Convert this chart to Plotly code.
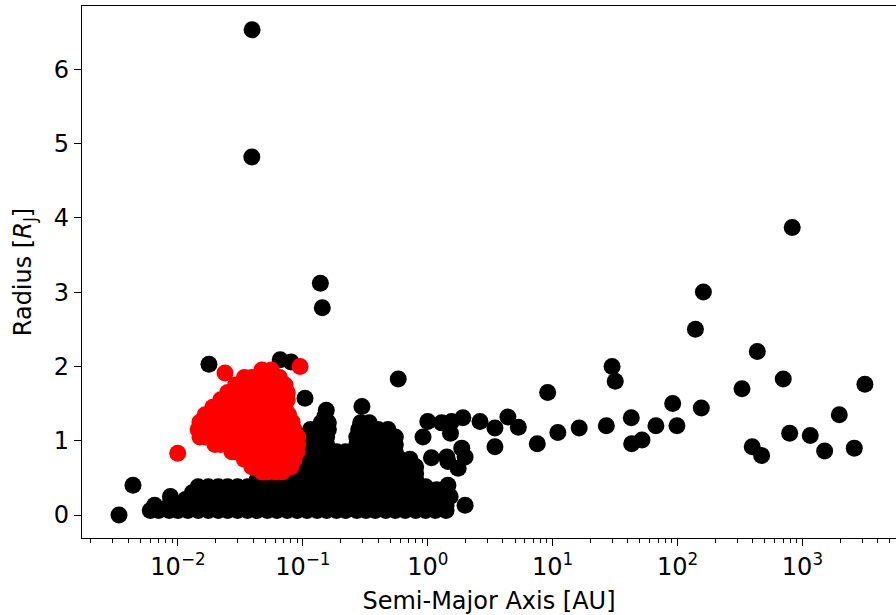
import plotly.graph_objects as go

# ---------------- data ----------------
# Dense black cloud of planets (radius rows -> semi-major axis values, AU)
black_row_r = [0.06, 0.13, 0.21, 0.30, 0.38, 0.47, 0.56, 0.65, 0.75, 0.85, 0.95, 1.05, 1.15, 1.24, 1.33, 1.41]
black_row_a = [
    [0.006, 0.007, 0.0085, 0.01, 0.012, 0.0145, 0.0175, 0.021, 0.025, 0.03, 0.036, 0.043, 0.052, 0.062, 0.075, 0.09,
     0.108, 0.13, 0.155, 0.186, 0.22, 0.27, 0.32, 0.38, 0.46, 0.55, 0.66, 0.8, 0.96, 1.15, 1.4],
    [0.0065, 0.0085, 0.01, 0.012, 0.0145, 0.0175, 0.021, 0.025, 0.03, 0.036, 0.043, 0.052, 0.062, 0.075, 0.09,
     0.108, 0.13, 0.155, 0.186, 0.22, 0.27, 0.32, 0.38, 0.46, 0.55, 0.66, 0.8, 0.96, 1.15, 1.4],
    [0.0115, 0.0145, 0.0175, 0.021, 0.025, 0.03, 0.036, 0.043, 0.052, 0.062, 0.075, 0.09,
     0.108, 0.13, 0.155, 0.186, 0.22, 0.27, 0.32, 0.38, 0.46, 0.55, 0.66, 0.8, 0.96, 1.15, 1.4],
    [0.013, 0.0155, 0.0175, 0.021, 0.025, 0.03, 0.036, 0.043, 0.052, 0.062, 0.075, 0.09,
     0.108, 0.13, 0.155, 0.186, 0.22, 0.27, 0.32, 0.38, 0.46, 0.55, 0.66, 0.8, 0.96, 1.15],
    [0.0145, 0.0175, 0.021, 0.025, 0.03, 0.036, 0.043, 0.052, 0.062, 0.075, 0.09,
     0.108, 0.13, 0.155, 0.186, 0.22, 0.27, 0.32, 0.38, 0.46, 0.55, 0.66, 0.8, 0.96],
    [0.043, 0.052, 0.062, 0.075, 0.09, 0.108, 0.13, 0.155, 0.186, 0.22, 0.27, 0.32, 0.38, 0.46, 0.55, 0.66, 0.8],
    [0.075, 0.09, 0.108, 0.13, 0.155, 0.186, 0.22, 0.27, 0.32, 0.38, 0.46, 0.55, 0.66, 0.8],
    [0.09, 0.108, 0.13, 0.155, 0.186, 0.22, 0.27, 0.32, 0.38, 0.46, 0.55, 0.66, 0.8],
    [0.1, 0.12, 0.14, 0.17, 0.2, 0.24, 0.29, 0.35, 0.42, 0.5, 0.6, 0.72],
    [0.108, 0.13, 0.155, 0.186, 0.22, 0.27, 0.32, 0.38, 0.46, 0.55],
    [0.108, 0.13, 0.155, 0.27, 0.32, 0.38, 0.46, 0.55],
    [0.11, 0.13, 0.155, 0.27, 0.32, 0.38, 0.46, 0.55],
    [0.115, 0.14, 0.16, 0.28, 0.33, 0.4, 0.48],
    [0.14, 0.16, 0.29, 0.34],
    [0.15],
    [0.154],
]

# Individual black planets (semi-major axis AU, radius R_J)
black_a = [0.00337, 0.00436, 0.0087, 0.0392, 0.039, 0.138, 0.143, 0.0177, 0.0658, 0.0805, 0.104, 0.297, 0.58,
           1.0, 1.29, 1.55, 1.91, 2.62, 3.45, 4.38, 0.916, 1.52, 1.07, 1.42, 1.87, 1.99, 1.75, 1.45, 1.45, 1.51,
           1.99, 1.04, 0.81, 1.18, 0.72, 3.45, 5.31,
           828, 161, 139, 435, 702, 328, 3162, 29.9, 31.7, 9.12, 91.4, 155, 1972, 790, 1155, 1506, 2600, 396,
           471, 42.6, 67.1, 98.9, 42.9, 51.9, 26.9, 16.3, 11.0, 7.53]
black_r = [0.0, 0.40, 0.25, 6.53, 4.82, 3.12, 2.79, 2.03, 2.09, 2.06, 1.57, 1.46, 1.83,
           1.26, 1.24, 1.26, 1.31, 1.26, 1.17, 1.32, 1.05, 1.10, 0.77, 0.78, 0.90, 0.78, 0.63, 0.72, 0.40, 0.25,
           0.13, 0.16, 0.34, 0.34, 0.11, 0.92, 1.18,
           3.87, 3.00, 2.50, 2.20, 1.83, 1.70, 1.76, 2.00, 1.80, 1.65, 1.50, 1.44, 1.35, 1.10, 1.07, 0.86, 0.90, 0.92,
           0.80, 1.31, 1.20, 1.20, 0.96, 1.01, 1.20, 1.17, 1.11, 0.96]

# Highlighted red planets (radius rows -> semi-major axis values, AU)
red_row_r = [1.95, 1.85, 1.75, 1.65, 1.55, 1.45, 1.35, 1.25, 1.15, 1.05, 0.95, 0.85, 0.75, 0.65, 0.58]
red_row_a = [
    [0.047, 0.056],
    [0.034, 0.039, 0.045, 0.052, 0.06, 0.065],
    [0.029, 0.034, 0.039, 0.045, 0.052, 0.06, 0.068, 0.072],
    [0.025, 0.029, 0.034, 0.039, 0.045, 0.052, 0.06, 0.068, 0.075],
    [0.022, 0.025, 0.029, 0.034, 0.039, 0.045, 0.052, 0.06, 0.068, 0.075],
    [0.019, 0.022, 0.025, 0.029, 0.034, 0.039, 0.045, 0.052, 0.06, 0.068, 0.072],
    [0.0165, 0.019, 0.022, 0.025, 0.029, 0.034, 0.039, 0.045, 0.052, 0.06, 0.068, 0.077],
    [0.015, 0.0165, 0.019, 0.022, 0.025, 0.029, 0.034, 0.039, 0.045, 0.052, 0.06, 0.068, 0.077, 0.082],
    [0.0145, 0.0165, 0.019, 0.022, 0.025, 0.029, 0.034, 0.039, 0.045, 0.052, 0.06, 0.068, 0.077, 0.085],
    [0.015, 0.0165, 0.019, 0.022, 0.025, 0.029, 0.034, 0.039, 0.045, 0.052, 0.06, 0.068, 0.077, 0.085, 0.091],
    [0.0198, 0.022, 0.025, 0.029, 0.034, 0.039, 0.045, 0.052, 0.06, 0.068, 0.077, 0.085, 0.091],
    [0.027, 0.029, 0.034, 0.039, 0.045, 0.052, 0.06, 0.068, 0.077, 0.085, 0.09],
    [0.034, 0.039, 0.045, 0.052, 0.06, 0.068, 0.077, 0.085],
    [0.039, 0.045, 0.052, 0.06, 0.068, 0.075, 0.08],
    [0.047, 0.052, 0.06, 0.068],
]
red_a = [0.0238, 0.00995, 0.095]
red_r = [1.91, 0.83, 2.00]

x_tick_vals = [0.01, 0.1, 1, 10, 100, 1000]
x_tick_text = ["10<sup>−2</sup>", "10<sup>−1</sup>", "10<sup>0</sup>", "10<sup>1</sup>",
               "10<sup>2</sup>", "10<sup>3</sup>"]
y_tick_vals = [0, 1, 2, 3, 4, 5, 6]

# ---------------- build ----------------
bx, by = [], []
for r, row in zip(black_row_r, black_row_a):
    bx += row
    by += [r] * len(row)
bx += black_a
by += black_r

rx, ry = [], []
for r, row in zip(red_row_r, red_row_a):
    rx += row
    ry += [r] * len(row)
rx += red_a
ry += red_r

minor_vals = [m * 10.0 ** k for k in range(-3, 4) for m in range(2, 10)]

fig = go.Figure()
fig.add_trace(go.Scatter(x=bx, y=by, mode="markers",
                         marker=dict(color="black", size=17, line=dict(width=0)),
                         hoverinfo="skip", showlegend=False))
fig.add_trace(go.Scatter(x=rx, y=ry, mode="markers",
                         marker=dict(color="red", size=17, line=dict(width=0)),
                         hoverinfo="skip", showlegend=False))

font = "DejaVu Sans"
fs = 24
fig.update_layout(
    width=896, height=615,
    margin=dict(l=82, r=0, t=6, b=77),
    paper_bgcolor="white", plot_bgcolor="white",
    font=dict(family=font, color="black", size=fs),
    xaxis=dict(
        type="log", range=[-2.7686, 3.749],
        showgrid=False, zeroline=False,
        showline=True, linecolor="black", linewidth=1.3, mirror=True,
        ticks="outside", ticklen=7, tickwidth=1.2, tickcolor="black",
        tickmode="array", tickvals=x_tick_vals, ticktext=x_tick_text,
        tickfont=dict(family=font, size=fs),
        minor=dict(ticks="outside", ticklen=4, tickwidth=1, tickcolor="black",
                   tickmode="array", tickvals=minor_vals, showgrid=False),
        title=dict(text="Semi-Major Axis [AU]", font=dict(family=font, size=fs), standoff=14),
    ),
    yaxis=dict(
        range=[-0.3096, 6.851],
        showgrid=False, zeroline=False,
        showline=True, linecolor="black", linewidth=1.3, mirror=False,
        ticks="outside", ticklen=7, tickwidth=1.2, tickcolor="black",
        tickmode="array", tickvals=y_tick_vals, ticktext=[str(v) for v in y_tick_vals],
        tickfont=dict(family=font, size=fs),
        title=dict(text="Radius [<i>R</i><sub>J</sub>]", font=dict(family=font, size=fs), standoff=15),
    ),
)

fig.write_html("out.html")
